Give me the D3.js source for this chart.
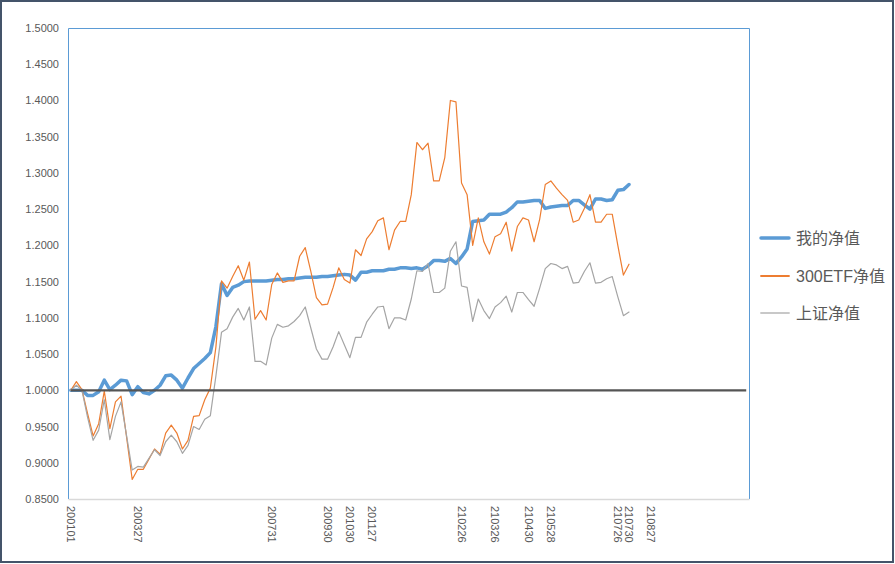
<!DOCTYPE html>
<html><head><meta charset="utf-8">
<script src="https://cdn.jsdelivr.net/npm/d3@7"></script>
<style>
html,body{margin:0;padding:0;background:#fff;}
svg{display:block;}
</style></head>
<body>
<svg id="chart" width="895" height="564"></svg>
<script>
// ---- data ----
const categoryCount = 122;
const labelIndex = [0, 12, 36, 46, 50, 54, 70, 76, 82, 86, 98, 100, 104];
const labelText  = ["200101","200327","200731","200930","201030","201127","210226","210326","210430","210528","210726","210730","210827"];
const seriesNames = ["我的净值", "300ETF净值", "上证净值"];
const myNav = [1.000,1.000,1.000,0.993,0.993,0.998,1.014,1.001,1.007,1.014,
1.013,0.994,1.005,0.997,0.995,1.000,1.007,1.020,1.021,1.014,
1.003,1.017,1.030,1.037,1.044,1.052,1.088,1.147,1.131,1.142,
1.145,1.150,1.151,1.151,1.151,1.151,1.152,1.153,1.153,1.154,
1.154,1.155,1.156,1.156,1.156,1.157,1.157,1.158,1.159,1.160,
1.159,1.152,1.163,1.163,1.165,1.165,1.165,1.167,1.167,1.169,
1.169,1.168,1.169,1.167,1.172,1.179,1.179,1.178,1.182,1.175,
1.184,1.195,1.233,1.234,1.235,1.243,1.243,1.243,1.246,1.252,
1.260,1.260,1.261,1.262,1.262,1.251,1.253,1.254,1.255,1.255,
1.262,1.262,1.256,1.250,1.264,1.264,1.262,1.263,1.276,1.277,
1.284];
const etf300 = [1.000,1.012,1.001,0.968,0.937,0.954,0.999,0.947,0.984,0.992,
0.935,0.877,0.891,0.891,0.905,0.919,0.912,0.941,0.952,0.941,
0.919,0.931,0.964,0.965,0.987,1.003,1.060,1.151,1.141,1.157,
1.172,1.152,1.177,1.098,1.110,1.097,1.146,1.162,1.149,1.151,
1.151,1.185,1.197,1.164,1.128,1.118,1.119,1.142,1.169,1.153,
1.148,1.194,1.186,1.209,1.219,1.234,1.238,1.194,1.221,1.233,
1.233,1.270,1.342,1.332,1.341,1.289,1.289,1.321,1.400,1.398,
1.286,1.270,1.200,1.238,1.205,1.188,1.212,1.216,1.232,1.192,
1.226,1.238,1.235,1.205,1.236,1.284,1.289,1.279,1.270,1.262,
1.232,1.235,1.251,1.270,1.232,1.232,1.243,1.243,1.200,1.159,
1.174];
const shIndex = [1.000,1.007,1.000,0.963,0.931,0.945,0.987,0.932,0.964,0.984,
0.937,0.890,0.895,0.894,0.906,0.918,0.910,0.929,0.938,0.929,
0.913,0.924,0.950,0.946,0.960,0.965,1.020,1.080,1.085,1.101,
1.113,1.097,1.115,1.040,1.040,1.035,1.072,1.091,1.087,1.089,
1.095,1.103,1.115,1.086,1.057,1.043,1.043,1.060,1.081,1.063,
1.045,1.073,1.073,1.094,1.105,1.115,1.116,1.085,1.100,1.100,
1.097,1.126,1.165,1.164,1.175,1.135,1.135,1.141,1.192,1.205,
1.144,1.142,1.095,1.126,1.110,1.099,1.115,1.121,1.130,1.108,
1.135,1.135,1.125,1.116,1.141,1.168,1.175,1.173,1.168,1.171,
1.148,1.149,1.164,1.176,1.148,1.149,1.154,1.157,1.129,1.103,
1.108];
const baseValue = 1.0;
const yTicks = [0.85,0.90,0.95,1.00,1.05,1.10,1.15,1.20,1.25,1.30,1.35,1.40,1.45,1.50];

// ---- layout ----
const svg = d3.select("#chart");
const L = 68, R = 749, T = 28, B = 499;
const font = "'Liberation Sans', Arial, 'Noto Sans CJK SC', sans-serif";
const textColor = "#595959";
const colors = ["#5B9BD5", "#ED7D31", "#A5A5A5"];
const widths = [3.5, 1.2, 1.2];

svg.append("rect").attr("x",1).attr("y",1).attr("width",892).attr("height",561)
  .attr("fill","#fff").attr("stroke","#44546A").attr("stroke-width",2);

const x = d3.scaleBand().domain(d3.range(categoryCount)).range([L, R]).paddingInner(0).paddingOuter(0);
const cx = i => x(i) + x.bandwidth()/2;
const y = d3.scaleLinear().domain([0.85, 1.5]).range([B, T]);

// plot area border (left, top, right in blue)
svg.append("path")
  .attr("d", `M${L+0.5},${B} V${T+0.5} H${R+0.5} V${B}`)
  .attr("fill","none").attr("stroke","#5B9BD5").attr("stroke-width",1);

// y axis labels
const yAxis = d3.axisLeft(y).tickValues(yTicks).tickFormat(d3.format(".4f")).tickSize(0).tickPadding(9);
const gy = svg.append("g").attr("transform",`translate(${L},0)`).call(yAxis);
gy.select(".domain").remove();
gy.selectAll("text").attr("fill",textColor).style("font-family",font).style("font-size","11px");

// x axis
const labelMap = new Map(labelIndex.map((d,k)=>[d,labelText[k]]));
const xAxis = d3.axisBottom(x).tickValues(labelIndex).tickFormat(d=>labelMap.get(d)).tickSize(0);
const gx = svg.append("g").attr("transform",`translate(0,${B})`).call(xAxis);
gx.select(".domain").attr("stroke","#D9D9D9").attr("stroke-width",1.3);
gx.selectAll("text")
  .attr("fill",textColor).style("font-family",font).style("font-size","11px")
  .attr("transform","rotate(90)")
  .attr("text-anchor","start")
  .attr("x",7).attr("y",0).attr("dy","0.35em");

// series lines
const series = [myNav, etf300, shIndex];
const line = d3.line().x((d,i)=>cx(i)).y(d=>y(d));
series.forEach((s,k)=>{
  svg.append("path").datum(s).attr("d",line)
    .attr("fill","none").attr("stroke",colors[k]).attr("stroke-width",widths[k])
    .attr("stroke-linejoin","round").attr("stroke-linecap","round");
});

// base line at 1.0 across all categories
svg.append("line")
  .attr("x1",cx(0)).attr("x2",cx(categoryCount-1))
  .attr("y1",y(baseValue)).attr("y2",y(baseValue))
  .attr("stroke","#555").attr("stroke-width",2.2);

// legend
const legY = [238, 276, 313];
seriesNames.forEach((n,k)=>{
  svg.append("line").attr("x1",761).attr("x2",789).attr("y1",legY[k]).attr("y2",legY[k])
    .attr("stroke",k===2 ? "#C8C8C8" : colors[k]).attr("stroke-width",widths[k]+ (k? 0.6:0)).attr("stroke-linecap","round");
  svg.append("text").attr("x",796).attr("y",legY[k]).attr("dy","0.35em")
    .attr("fill",textColor).style("font-family",font).style("font-size","16px").text(n);
});
</script>
</body></html>
